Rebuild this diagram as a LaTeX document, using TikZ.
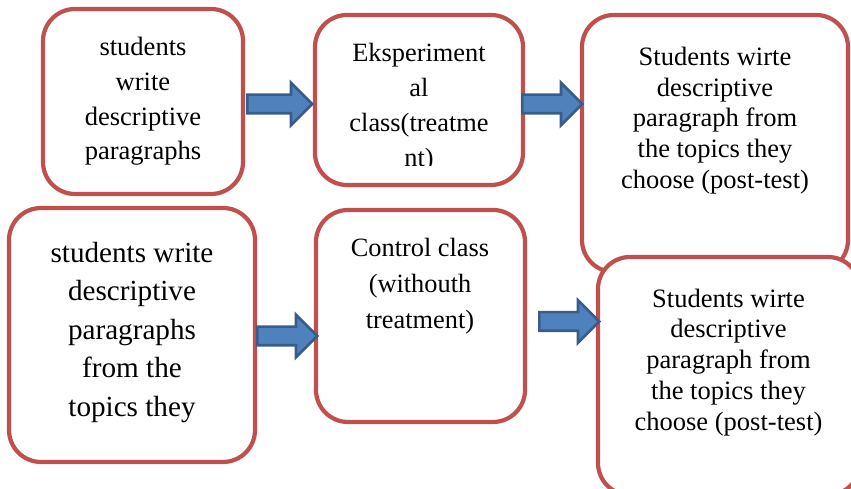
\documentclass[tikz,border=0pt]{standalone}
\usepackage{fontspec}
\setmainfont{Liberation Serif}
\usetikzlibrary{shapes.arrows}
\begin{document}
\begin{tikzpicture}[x=0.2mm,y=-0.2mm,
  boite/.style={draw=rouge_boite,line width=2.4pt,fill=white,rounded corners=6.4mm,inner sep=0pt},
  texte/.style={align=center,inner sep=0pt},
  fleche/.style={single arrow,draw=bleu_bord,fill=bleu_fleche,line width=1.5pt,minimum width=8mm,inner sep=1.6mm,single arrow head extend=2.4mm,anchor=tail}]
\definecolor{rouge_boite}{HTML}{C0504D}
\definecolor{bleu_fleche}{HTML}{4F81BD}
\definecolor{bleu_bord}{HTML}{385D8A}

\clip (0,0) rectangle (851,489);%le cadre

\node[boite,minimum width=40mm,minimum height=37mm] (b1) at (143,101.5) {};%boite de depart
\node[boite,minimum width=41.6mm,minimum height=34mm] (b2) at (419,100) {};%classe experimentale
\node[boite,minimum width=53.2mm,minimum height=51.4mm] (b3) at (715,143.5) {};%post-test du haut
\node[boite,minimum width=49.2mm,minimum height=50.8mm] (b4) at (132,335) {};%boite de depart du bas
\node[boite,minimum width=41.8mm,minimum height=42.4mm] (b5) at (420.5,316) {};%classe de controle
\node[boite,minimum width=52.4mm,minimum height=47.6mm] (b6) at (729,376) {};%post-test du bas

\node[texte,font=\fontsize{15.1}{19.85}\selectfont] (t1) at (143,101.3) {students\\write\\descriptive\\paragraphs};
\begin{scope}
\clip (315,15) rectangle (523,166);%le texte coupe
\node[texte,font=\fontsize{15}{19.85}\selectfont] (t2) at (419,107.9) {Eksperiment\\al\\class(treatme\\nt)};
\end{scope}
\node[texte,font=\fontsize{15.1}{17.5}\selectfont] (t3) at (715,120.5) {Students wirte\\descriptive\\paragraph from\\the topics they\\choose (post-test)};
\node[texte,font=\fontsize{16.6}{21.9}\selectfont] (t4) at (132,332.4) {students write\\descriptive\\paragraphs\\from the\\topics they};
\node[texte,font=\fontsize{15}{20.4}\selectfont] (t5) at (420,285.9) {Control class\\(withouth\\treatment)};
\node[texte,font=\fontsize{15.1}{17.5}\selectfont] (t6) at (728.5,362.2) {Students wirte\\descriptive\\paragraph from\\the topics they\\choose (post-test)};

\node[fleche,minimum height=13mm] (f1) at (246,104) {};%fleche 1
\node[fleche,minimum height=12mm] (f2) at (521,104) {};%fleche 2
\node[fleche,minimum height=12mm] (f3) at (256,336) {};%fleche 3
\node[fleche,minimum height=12mm] (f4) at (538,321.5) {};%fleche 4

\end{tikzpicture}
\end{document}
